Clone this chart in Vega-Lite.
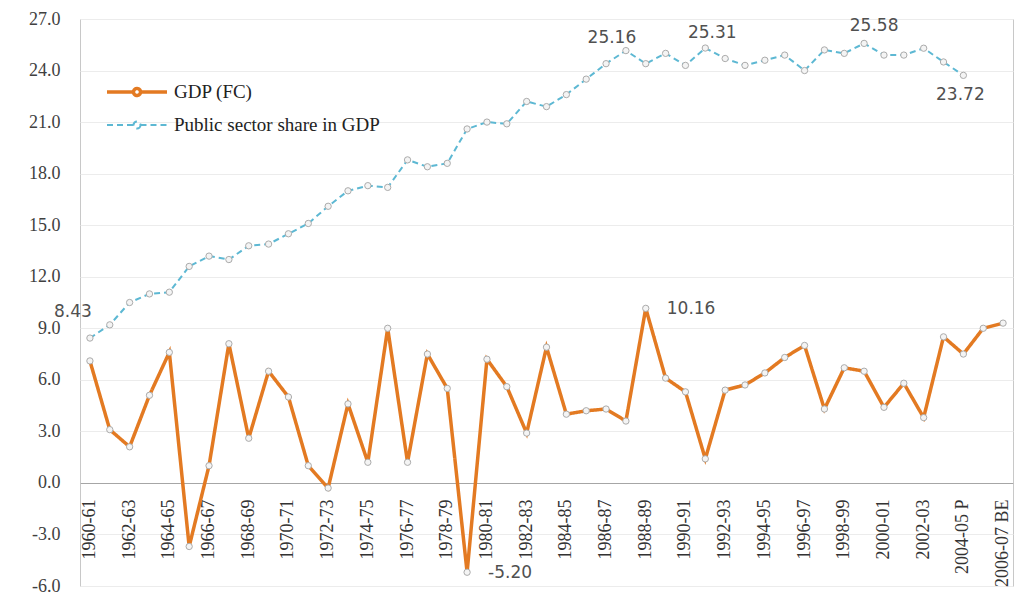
{
  "$schema": "https://vega.github.io/schema/vega-lite/v6.json",
  "width": 933,
  "height": 567,
  "autosize": {"type": "none"},
  "padding": {"left": 80, "top": 19, "right": 6, "bottom": 19},
  "background": "white",
  "config": {
    "locale": {"number": {"decimal": ".", "thousands": ",", "grouping": [3], "currency": ["", ""], "minus": "-"}},
    "view": {"stroke": "#c8c8c8", "strokeWidth": 1},
    "legend": {
      "orient": "none",
      "legendX": 45,
      "legendY": 61,
      "padding": 0,
      "title": null,
      "symbolType": "M-3,0L-0.35,0M0.35,0L3,0M0.35,0A0.35,0.35 0 1 1 -0.35,0A0.35,0.35 0 1 1 0.35,0",
      "symbolSize": 400,
      "labelFont": "Liberation Serif",
      "labelFontSize": 19,
      "labelColor": "#222222",
      "labelOffset": 25,
      "labelLimit": 0,
      "rowPadding": 11
    }
  },
  "data": {
    "values": [
      {"year": "1960-61", "gdp": 7.1, "pub": 8.43},
      {"year": "1961-62", "gdp": 3.1, "pub": 9.2},
      {"year": "1962-63", "gdp": 2.1, "pub": 10.5},
      {"year": "1963-64", "gdp": 5.1, "pub": 11.0},
      {"year": "1964-65", "gdp": 7.6, "pub": 11.1},
      {"year": "1965-66", "gdp": -3.7, "pub": 12.6},
      {"year": "1966-67", "gdp": 1.0, "pub": 13.2},
      {"year": "1967-68", "gdp": 8.1, "pub": 13.0},
      {"year": "1968-69", "gdp": 2.6, "pub": 13.8},
      {"year": "1969-70", "gdp": 6.5, "pub": 13.9},
      {"year": "1970-71", "gdp": 5.0, "pub": 14.5},
      {"year": "1971-72", "gdp": 1.0, "pub": 15.1},
      {"year": "1972-73", "gdp": -0.3, "pub": 16.1},
      {"year": "1973-74", "gdp": 4.6, "pub": 17.0},
      {"year": "1974-75", "gdp": 1.2, "pub": 17.3},
      {"year": "1975-76", "gdp": 9.0, "pub": 17.2},
      {"year": "1976-77", "gdp": 1.2, "pub": 18.8},
      {"year": "1977-78", "gdp": 7.5, "pub": 18.4},
      {"year": "1978-79", "gdp": 5.5, "pub": 18.6},
      {"year": "1979-80", "gdp": -5.2, "pub": 20.6},
      {"year": "1980-81", "gdp": 7.2, "pub": 21.0},
      {"year": "1981-82", "gdp": 5.6, "pub": 20.9},
      {"year": "1982-83", "gdp": 2.9, "pub": 22.2},
      {"year": "1983-84", "gdp": 7.9, "pub": 21.9},
      {"year": "1984-85", "gdp": 4.0, "pub": 22.6},
      {"year": "1985-86", "gdp": 4.2, "pub": 23.5},
      {"year": "1986-87", "gdp": 4.3, "pub": 24.4},
      {"year": "1987-88", "gdp": 3.6, "pub": 25.16},
      {"year": "1988-89", "gdp": 10.16, "pub": 24.4},
      {"year": "1989-90", "gdp": 6.1, "pub": 25.0},
      {"year": "1990-91", "gdp": 5.3, "pub": 24.3},
      {"year": "1991-92", "gdp": 1.4, "pub": 25.31},
      {"year": "1992-93", "gdp": 5.4, "pub": 24.7},
      {"year": "1993-94", "gdp": 5.7, "pub": 24.3},
      {"year": "1994-95", "gdp": 6.4, "pub": 24.6},
      {"year": "1995-96", "gdp": 7.3, "pub": 24.9},
      {"year": "1996-97", "gdp": 8.0, "pub": 24.0},
      {"year": "1997-98", "gdp": 4.3, "pub": 25.2},
      {"year": "1998-99", "gdp": 6.7, "pub": 25.0},
      {"year": "1999-00", "gdp": 6.5, "pub": 25.58},
      {"year": "2000-01", "gdp": 4.4, "pub": 24.9},
      {"year": "2001-02", "gdp": 5.8, "pub": 24.9},
      {"year": "2002-03", "gdp": 3.8, "pub": 25.3},
      {"year": "2003-04", "gdp": 8.5, "pub": 24.5},
      {"year": "2004-05 P", "gdp": 7.5, "pub": 23.72},
      {"year": "2005-06", "gdp": 9.0, "pub": null},
      {"year": "2006-07 BE", "gdp": 9.3, "pub": null}
    ]
  },
  "transform": [
    {"fold": ["gdp", "pub"], "as": ["series", "value"]},
    {"filter": "datum.value != null"}
  ],
  "encoding": {
    "x": {
      "field": "year",
      "type": "nominal",
      "sort": null,
      "scale": {"type": "band", "paddingInner": 0, "paddingOuter": 0},
      "axis": {
        "title": null,
        "offset": -103,
        "values": ["1960-61", "1962-63", "1964-65", "1966-67", "1968-69", "1970-71", "1972-73", "1974-75", "1976-77", "1978-79", "1980-81", "1982-83", "1984-85", "1986-87", "1988-89", "1990-91", "1992-93", "1994-95", "1996-97", "1998-99", "2000-01", "2002-03", "2004-05 P", "2006-07 BE"],
        "labelAngle": -90,
        "labelPadding": 16,
        "labelFont": "Liberation Serif",
        "labelFontSize": 18,
        "labelColor": "#333333",
        "labelOverlap": false,
        "ticks": false,
        "domain": true,
        "domainColor": "#a6a6a6",
        "domainWidth": 1.2,
        "grid": false
      }
    },
    "y": {
      "field": "value",
      "type": "quantitative",
      "scale": {"domain": [-6, 27], "nice": false, "zero": false},
      "axis": {
        "title": null,
        "values": [-6, -3, 0, 3, 6, 9, 12, 15, 18, 21, 24, 27],
        "format": ".1f",
        "labelFont": "Liberation Serif",
        "labelFontSize": 18,
        "labelColor": "#404040",
        "labelPadding": 20,
        "domain": false,
        "ticks": false,
        "grid": true,
        "gridColor": "#ececec",
        "gridWidth": 1
      }
    }
  },
  "layer": [
    {
      "mark": {"type": "line", "strokeJoin": "miter"},
      "encoding": {
        "color": {
          "field": "series",
          "type": "nominal",
          "scale": {"domain": ["gdp", "pub"], "range": ["#E37A22", "#5DB8D3"]},
          "legend": {"labelExpr": "datum.label == 'gdp' ? 'GDP (FC)' : 'Public sector share in GDP'"}
        },
        "strokeDash": {
          "field": "series",
          "type": "nominal",
          "scale": {"domain": ["gdp", "pub"], "range": [[1, 0], [6, 4]]},
          "legend": {"labelExpr": "datum.label == 'gdp' ? 'GDP (FC)' : 'Public sector share in GDP'"}
        },
        "strokeWidth": {
          "field": "series",
          "type": "nominal",
          "scale": {"domain": ["gdp", "pub"], "range": [3.5, 2]},
          "legend": {"labelExpr": "datum.label == 'gdp' ? 'GDP (FC)' : 'Public sector share in GDP'"}
        }
      }
    },
    {
      "mark": {"type": "point", "filled": true, "fill": "#f4f4f4", "stroke": "#ababab", "strokeWidth": 1, "size": 40, "opacity": 1}
    },
    {
      "transform": [{"filter": "datum.series == 'pub' && datum.year == '1960-61'"}],
      "mark": {"type": "text", "font": "DejaVu Sans", "fontSize": 17, "color": "#505050", "dx": -17, "dy": -26},
      "encoding": {"text": {"field": "value", "format": ".2f"}}
    },
    {
      "transform": [{"filter": "datum.series == 'pub' && datum.year == '1987-88'"}],
      "mark": {"type": "text", "font": "DejaVu Sans", "fontSize": 17, "color": "#505050", "dx": -14, "dy": -13},
      "encoding": {"text": {"field": "value", "format": ".2f"}}
    },
    {
      "transform": [{"filter": "datum.series == 'pub' && datum.year == '1991-92'"}],
      "mark": {"type": "text", "font": "DejaVu Sans", "fontSize": 17, "color": "#505050", "dx": 7, "dy": -15},
      "encoding": {"text": {"field": "value", "format": ".2f"}}
    },
    {
      "transform": [{"filter": "datum.series == 'pub' && datum.year == '1999-00'"}],
      "mark": {"type": "text", "font": "DejaVu Sans", "fontSize": 17, "color": "#505050", "dx": 10, "dy": -17},
      "encoding": {"text": {"field": "value", "format": ".2f"}}
    },
    {
      "transform": [{"filter": "datum.series == 'pub' && datum.year == '2004-05 P'"}],
      "mark": {"type": "text", "font": "DejaVu Sans", "fontSize": 17, "color": "#505050", "dx": -3, "dy": 20},
      "encoding": {"text": {"field": "value", "format": ".2f"}}
    },
    {
      "transform": [{"filter": "datum.series == 'gdp' && (datum.year == '1988-89' || datum.year == '1979-80')"}],
      "mark": {"type": "text", "font": "DejaVu Sans", "fontSize": 17, "color": "#505050", "align": "left", "dx": 21, "dy": 1},
      "encoding": {"text": {"field": "value", "format": ".2f"}}
    }
  ]
}
